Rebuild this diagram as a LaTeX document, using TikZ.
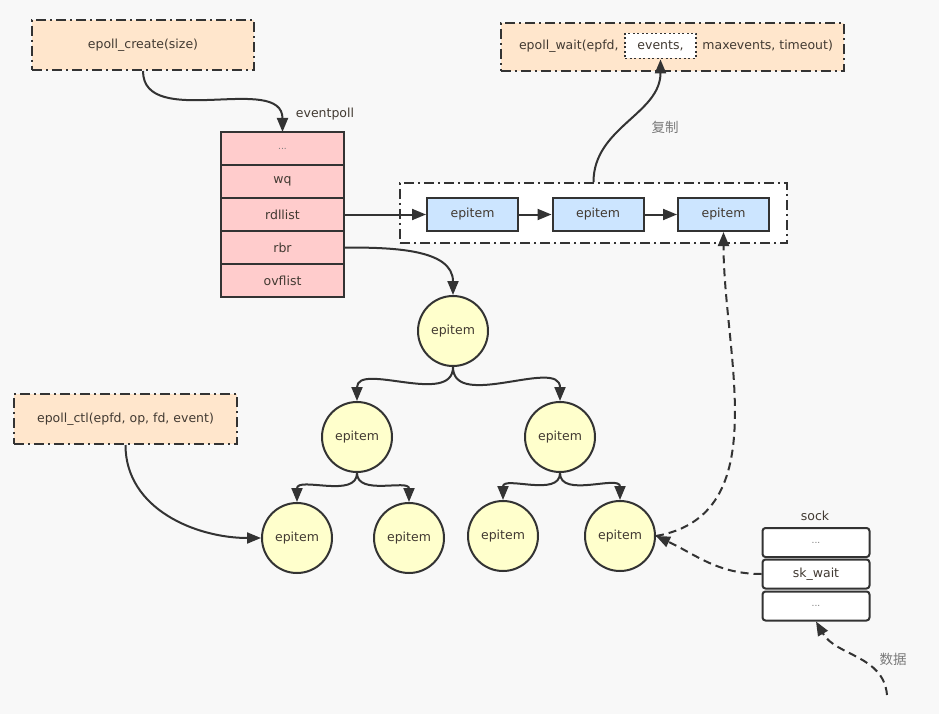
\documentclass[tikz,border=0pt]{standalone}
\usepackage{fontspec}
\setmainfont{DejaVu Sans}
\newfontfamily\cjk{Noto Sans CJK SC}
\usetikzlibrary{positioning,arrows.meta}
\definecolor{bggrey}{RGB}{248,248,248}
\definecolor{callpeach}{RGB}{255,230,204}
\definecolor{structpink}{RGB}{255,204,204}
\definecolor{listblue}{RGB}{204,229,255}
\definecolor{treeyellow}{RGB}{255,255,204}
\definecolor{inkgrey}{RGB}{51,51,51}
\definecolor{txtbrown}{RGB}{66,58,50}
\definecolor{notegrey}{RGB}{120,120,120}

\begin{document}
\begin{tikzpicture}[x=1pt, y=-1pt,
  every node/.style={text=txtbrown, font=\fontsize{12.5}{14}\selectfont},
  call/.style={draw=inkgrey, fill=callpeach, line width=2pt,
    dash pattern=on 10pt off 4pt on 2pt off 4pt, inner sep=0pt},
  field/.style={draw=inkgrey, fill=structpink, line width=2pt, outer sep=0pt,
    minimum width=123pt, minimum height=33pt, inner sep=0pt},
  item/.style={draw=inkgrey, fill=listblue, line width=2pt,
    minimum width=91pt, minimum height=33pt, inner sep=0pt},
  knot/.style={circle, draw=inkgrey, fill=treeyellow, line width=2pt,
    minimum size=70pt, inner sep=0pt},
  slot/.style={draw=inkgrey, fill=white, rounded corners=3pt, line width=2pt,
    minimum width=107pt, minimum height=29pt, inner sep=0pt},
  dots/.style={text=notegrey, font=\fontsize{9}{9}\selectfont},
  lbl/.style={inner sep=1pt},
  note/.style={text=notegrey, font=\cjk\fontsize{13.5}{15}\selectfont},
  arr/.style={-{Triangle[length=14pt,width=11pt]}, draw=inkgrey, line width=2pt},
  darr/.style={arr, dash pattern=on 8pt off 5pt},
]
\useasboundingbox (0,0) rectangle (939,714);
\fill[bggrey] (0,0) rectangle (939,714);

% ---- system calls ----
\node[call, minimum width=222pt, minimum height=50pt] (create) at (143,45)
  {epoll\_create(size)};
\node[call, minimum width=223pt, minimum height=50pt] (ctl) at (125.5,419)
  {epoll\_ctl(epfd, op, fd, event)};
\node[call, minimum width=343pt, minimum height=48pt] (wait) at (672,47) {};
\node[draw=inkgrey, fill=white, line width=1.8pt, dash pattern=on 2pt off 2.5pt,
  minimum width=71pt, minimum height=25pt, inner sep=0pt] (ev) at (660.5,46)
  {events,};
\node[left=2pt of ev] (waitl) {epoll\_wait(epfd,};
\node[right=2pt of ev] (waitr) {maxevents, timeout)};

% ---- eventpoll ----
\node[field] (f0) at (282.5,148.5) {};
\node[dots] at (f0) {...};
\node[field, below=0pt of f0] (wq) {wq};
\node[field, below=0pt of wq] (rdl) {rdllist};
\node[field, below=0pt of rdl] (rbr) {rbr};
\node[field, below=0pt of rbr] (ovf) {ovflist};
\node[lbl] (evname) at (325,114) {eventpoll};

% ---- ready list ----
\node[draw=inkgrey, fill=white, line width=2pt,
  dash pattern=on 10pt off 4pt on 2pt off 4pt,
  minimum width=387pt, minimum height=60pt] (lst) at (593.5,213) {};
\node[item] (b1) at (472.5,214.5) {epitem};
\node[item] (b2) at (598,214.5) {epitem};
\node[item] (b3) at (723.5,214.5) {epitem};

% ---- red-black tree ----
\node[knot] (t1) at (453,331) {epitem};
\node[knot] (t2) at (357,437) {epitem};
\node[knot] (t3) at (560,437) {epitem};
\node[knot] (t4) at (297,538) {epitem};
\node[knot] (t5) at (409,538) {epitem};
\node[knot] (t6) at (503,536) {epitem};
\node[knot] (t7) at (620,536) {epitem};

% ---- sock ----
\node[slot] (s0) at (816,542.5) {};
\node[dots] at (s0) {...};
\node[slot] (skw) at (816,574) {sk\_wait};
\node[slot] (s2) at (816,606) {};
\node[dots] at (s2) {...};
\node[lbl] (sockname) at (815,516) {sock};
\coordinate (src) at (887,695);

% ---- arrows ----
\draw[arr] (create.south) to[out=-90,in=90] (f0.north);
\draw[arr] (rdl.east) -- (b1.west);
\draw[arr] (b1) -- (b2);
\draw[arr] (b2) -- (b3);
\draw[arr] (lst.north) to[out=90,in=-90] (ev.south);
\node[note] (copy) at (665,127) {复制};
\draw[arr] (rbr.east) to[out=0,in=90] (t1.north);
\draw[arr] (t1.south) to[out=-90,in=90] (t2.north);
\draw[arr] (t1.south) to[out=-90,in=90] (t3.north);
\draw[arr] (t2.south) to[out=-90,in=90] (t4.north);
\draw[arr] (t2.south) to[out=-90,in=90] (t5.north);
\draw[arr] (t3.south) to[out=-90,in=90] (t6.north);
\draw[arr] (t3.south) to[out=-90,in=90] (t7.north);
\draw[arr] (ctl.south) to[out=-90,in=180] (t4.west);

% dashed: socket wakes the epitem, epitem joins the ready list
\draw[darr] (skw.west) to[out=180,in=-25] (t7.east);
\draw[darr] (t7.east) to[out=10,in=-90] (b3.south);
\draw[darr] (src) to[out=95,in=-60] (s2.south);
\node[note] (data) at (893,659) {数据};

\end{tikzpicture}
\end{document}
